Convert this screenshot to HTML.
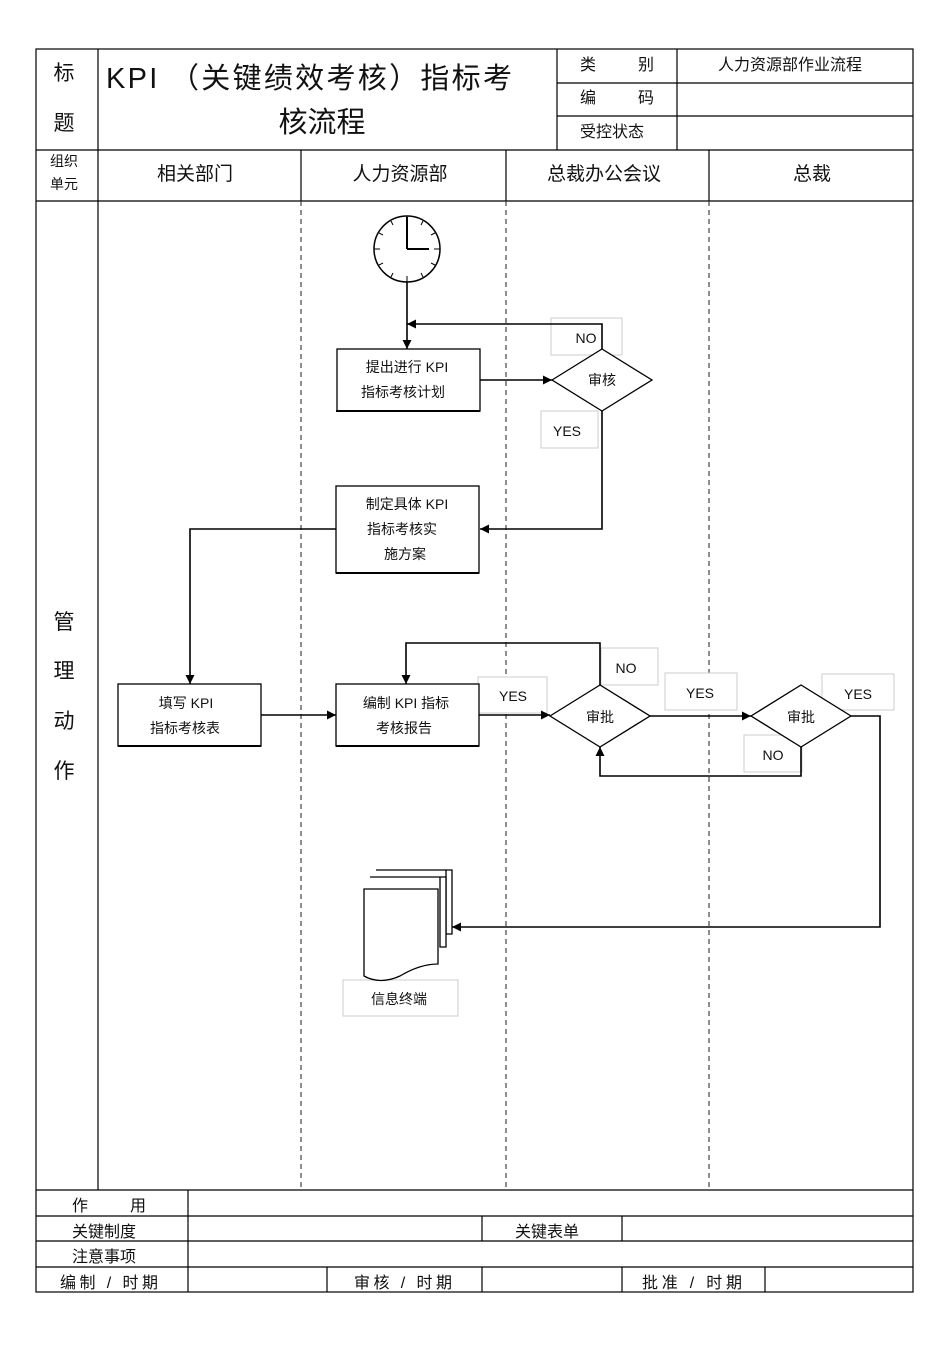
<!DOCTYPE html>
<html><head><meta charset="utf-8"><style>
body{margin:0;background:#fff}
text{font-family:"Liberation Sans","Noto Sans CJK SC",sans-serif;fill:#111}
</style></head><body>
<svg width="950" height="1345" viewBox="0 0 950 1345" xmlns="http://www.w3.org/2000/svg">
<defs><marker id="a" viewBox="0 0 10 10" refX="10" refY="5" markerWidth="9" markerHeight="9" markerUnits="userSpaceOnUse" orient="auto"><path d="M0,0L10,5L0,10z" fill="#000"/></marker></defs>
<g stroke="#000" stroke-width="1.2" fill="none">
<rect x="36" y="49" width="877" height="1243"/>
<line x1="98" y1="49" x2="98" y2="150"/><line x1="557" y1="49" x2="557" y2="150"/><line x1="677" y1="49" x2="677" y2="150"/>
<line x1="557" y1="83" x2="913" y2="83"/><line x1="557" y1="116" x2="913" y2="116"/>
<line x1="36" y1="150" x2="913" y2="150"/><line x1="36" y1="201" x2="913" y2="201"/>
<line x1="98" y1="150" x2="98" y2="1190"/><line x1="301" y1="150" x2="301" y2="201"/><line x1="506" y1="150" x2="506" y2="201"/><line x1="709" y1="150" x2="709" y2="201"/>
<g stroke-dasharray="5,4" stroke="#444"><line x1="301" y1="201" x2="301" y2="1190"/><line x1="506" y1="201" x2="506" y2="1190"/><line x1="709" y1="201" x2="709" y2="1190"/></g>
<line x1="36" y1="1190" x2="913" y2="1190"/><line x1="36" y1="1216" x2="913" y2="1216"/><line x1="36" y1="1241" x2="913" y2="1241"/><line x1="36" y1="1267" x2="913" y2="1267"/>
<line x1="188" y1="1190" x2="188" y2="1292"/><line x1="482" y1="1216" x2="482" y2="1241"/><line x1="622" y1="1216" x2="622" y2="1241"/>
<line x1="327" y1="1267" x2="327" y2="1292"/><line x1="482" y1="1267" x2="482" y2="1292"/><line x1="622" y1="1267" x2="622" y2="1292"/><line x1="765" y1="1267" x2="765" y2="1292"/>
</g>
<g font-size="21"><text x="64" y="80" text-anchor="middle">标</text><text x="64" y="130" text-anchor="middle">题</text></g>
<text x="106" y="88" font-size="29" textLength="406" lengthAdjust="spacing">KPI （关键绩效考核）指标考</text>
<text x="322" y="132" font-size="29" text-anchor="middle">核流程</text>
<g font-size="16"><text x="580" y="70">类</text><text x="638" y="70">别</text><text x="580" y="103">编</text><text x="638" y="103">码</text><text x="580" y="137">受控状态</text>
<text x="790" y="70" text-anchor="middle">人力资源部作业流程</text></g>
<g font-size="14"><text x="64" y="166" text-anchor="middle">组织</text><text x="64" y="189" text-anchor="middle">单元</text></g>
<g font-size="19" text-anchor="middle"><text x="195" y="180">相关部门</text><text x="400" y="180">人力资源部</text><text x="604" y="180">总裁办公会议</text><text x="812" y="180">总裁</text></g>
<g font-size="21" text-anchor="middle"><text x="64" y="629">管</text><text x="64" y="678">理</text><text x="64" y="728">动</text><text x="64" y="778">作</text></g>
<g font-size="16"><text x="72" y="1211">作</text><text x="130" y="1211">用</text><text x="72" y="1237">关键制度</text><text x="515" y="1237">关键表单</text><text x="72" y="1262">注意事项</text>
<text x="60" y="1288" textLength="98" lengthAdjust="spacing">编制 / 时期</text><text x="354" y="1288" textLength="98" lengthAdjust="spacing">审核 / 时期</text><text x="642" y="1288" textLength="100" lengthAdjust="spacing">批准 / 时期</text></g>
<g stroke="#000" fill="none" stroke-width="1.5"><circle cx="407" cy="249" r="33" fill="#fff"/>
<line x1="407" y1="249" x2="407" y2="217" stroke-width="2"/><line x1="407" y1="249" x2="429" y2="249" stroke-width="2"/>
<g stroke-width="1"><line x1="407" y1="216" x2="407" y2="222"/><line x1="407" y1="276" x2="407" y2="282"/><line x1="374" y1="249" x2="380" y2="249"/><line x1="434" y1="249" x2="440" y2="249"/>
<line x1="423" y1="221" x2="421" y2="225"/><line x1="435" y1="233" x2="431" y2="235"/><line x1="435" y1="265" x2="431" y2="263"/><line x1="423" y1="277" x2="421" y2="273"/>
<line x1="391" y1="221" x2="393" y2="225"/><line x1="379" y1="233" x2="383" y2="235"/><line x1="379" y1="265" x2="383" y2="263"/><line x1="391" y1="277" x2="393" y2="273"/></g></g>
<g stroke="#ccc" fill="#fff" stroke-width="1">
<rect x="551" y="318" width="71" height="37"/><rect x="541" y="411" width="57" height="37"/><rect x="478" y="677" width="69" height="36"/>
<rect x="601" y="648" width="57" height="37"/><rect x="665" y="673" width="72" height="37"/><rect x="744" y="735" width="58" height="37"/><rect x="822" y="674" width="72" height="36"/><rect x="343" y="980" width="115" height="36"/></g>
<g stroke="#000" stroke-width="1.6" fill="none">
<line x1="407" y1="282" x2="407" y2="349" marker-end="url(#a)"/>
<polyline points="602,350 602,324 407,324" marker-end="url(#a)"/>
<line x1="480" y1="380" x2="552" y2="380" marker-end="url(#a)"/>
<polyline points="602,411 602,529 480,529" marker-end="url(#a)"/>
<polyline points="336,529 190,529 190,684" marker-end="url(#a)"/>
<line x1="261" y1="715" x2="336" y2="715" marker-end="url(#a)"/>
<line x1="479" y1="715" x2="550" y2="715" marker-end="url(#a)"/>
<polyline points="600,685 600,643 406,643 406,684" marker-end="url(#a)"/>
<line x1="650" y1="716" x2="751" y2="716" marker-end="url(#a)"/>
<polyline points="801,747 801,776 600,776 600,747" marker-end="url(#a)"/>
<polyline points="851,716 880,716 880,927 452,927" marker-end="url(#a)"/>
</g>
<g stroke="#000" stroke-width="1.3" fill="#fff">
<rect x="337" y="349" width="143" height="62"/><rect x="336" y="486" width="143" height="87"/><rect x="118" y="684" width="143" height="62"/><rect x="336" y="684" width="143" height="62"/>
<polygon points="552,380 602,349 652,380 602,411"/><polygon points="550,716 600,685 650,716 600,747"/><polygon points="751,716 801,685 851,716 801,747"/>
<path d="M376,870 H452 V934 H446 V870 Z"/><path d="M370,877 H446 V947 H440 V877 Z"/>
<path d="M364,889 H438 V964 Q420,964 400,976 Q380,985 364,976 Z"/></g>
<g stroke="#000" stroke-width="2"><line x1="336" y1="411" x2="480" y2="411"/><line x1="336" y1="573" x2="479" y2="573"/><line x1="118" y1="746" x2="261" y2="746"/><line x1="336" y1="746" x2="479" y2="746"/></g>
<g font-size="14" text-anchor="middle">
<text x="407" y="372">提出进行 KPI</text><text x="403" y="397">指标考核计划</text>
<text x="407" y="509">制定具体 KPI</text><text x="402" y="534">指标考核实</text><text x="405" y="559">施方案</text>
<text x="186" y="708">填写 KPI</text><text x="185" y="733">指标考核表</text>
<text x="406" y="708">编制 KPI 指标</text><text x="404" y="733">考核报告</text>
<text x="602" y="385">审核</text><text x="600" y="722">审批</text><text x="801" y="722">审批</text>
<text x="399" y="1004">信息终端</text>
<text x="586" y="343">NO</text><text x="567" y="436">YES</text><text x="513" y="701">YES</text><text x="626" y="673">NO</text><text x="700" y="698">YES</text><text x="773" y="760">NO</text><text x="858" y="699">YES</text></g>
</svg>
</body></html>
